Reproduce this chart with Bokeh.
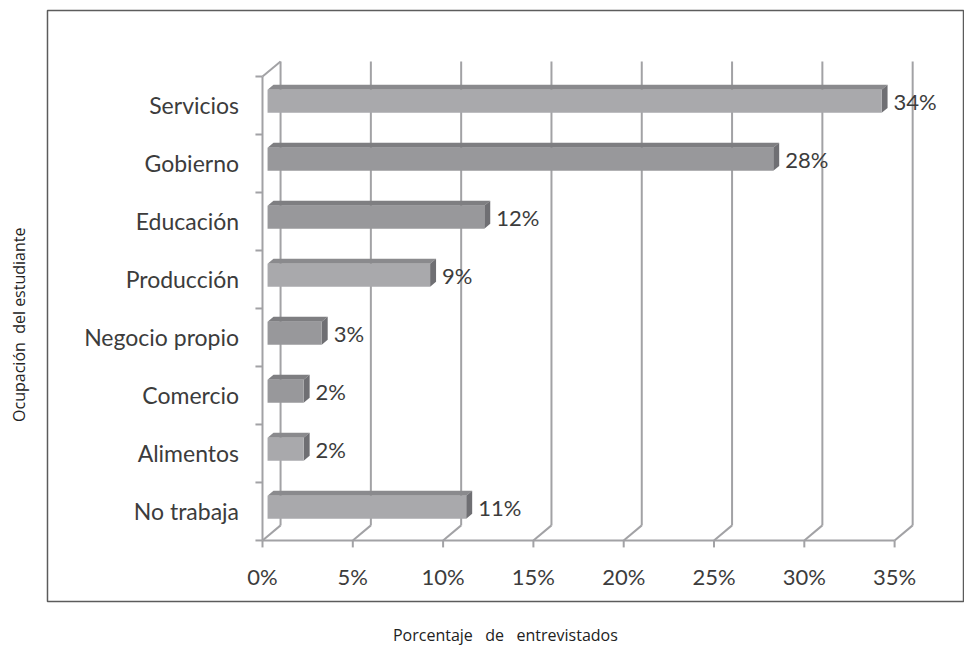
import numpy as np
from bokeh.plotting import figure
from bokeh.models import Range1d
from bokeh.embed import file_html
from bokeh.resources import INLINE
from bokeh.core.properties import value

# ---------------- data ----------------
categories = ["Servicios", "Gobierno", "Educación", "Producción",
              "Negocio propio", "Comercio", "Alimentos", "No trabaja"]
values = [34, 28, 12, 9, 3, 2, 2, 11]
bar_labels = ["34%", "28%", "12%", "9%", "3%", "2%", "2%", "11%"]
x_ticks = [0, 5, 10, 15, 20, 25, 30, 35]
x_tick_labels = ["0%", "5%", "10%", "15%", "20%", "25%", "30%", "35%"]
y_title = "Ocupación\u00a0 del estudiante"
x_title = "Porcentaje\u00a0\u00a0 de\u00a0\u00a0 entrevistados"
shade = ["light", "dark", "dark", "light", "dark", "dark", "light", "light"]

# ---------------- style ----------------
FONT = "Lato"
TXT = "#3c3c3c"
GRID = "#a2a2a5"
FRONT = {"light": "#a9a9ac", "dark": "#98989b"}
TOP = {"light": "#8a8a8d", "dark": "#7e7e81"}
SIDE = "#6f6f73"

DX, DY = 1.0, 0.26          # depth direction of the 3D box (data units)
F0, F1 = 0.28, 0.61         # bar front / back depth fractions
H = 0.2                     # half bar height (category units)

n = len(categories)
xmax = x_ticks[-1]

p = figure(width=964, height=649, output_backend="svg", toolbar_location=None,
           x_range=Range1d(-14.507, 38.87), y_range=Range1d(-1.88, 9.31),
           x_axis_type=None, y_axis_type=None, min_border=0)
p.grid.visible = False
p.outline_line_color = None
p.background_fill_color = "white"

# chart border box
p.quad(left=[-11.905], right=[38.815], bottom=[-1.052], top=[9.138],
       fill_color=None, line_color="#5c5c5c", line_width=1.5)

# ---------------- walls / grid ----------------
gx0, gy0, gx1, gy1 = [], [], [], []
for t in x_ticks:
    gx0.append(t + DX); gy0.append(DY); gx1.append(t + DX); gy1.append(n + DY)
    gx0.append(t); gy0.append(0); gx1.append(t + DX); gy1.append(DY)
gx0 += [0, 0]; gy0 += [0, n]; gx1 += [0, DX]; gy1 += [n, n + DY]
gx0.append(0); gy0.append(0); gx1.append(xmax); gy1.append(0)
for t in x_ticks:
    gx0.append(t); gy0.append(0); gx1.append(t); gy1.append(-0.12)
for k in range(n + 1):
    gx0.append(-0.39); gy0.append(k); gx1.append(0); gy1.append(k)
p.segment(gx0, gy0, gx1, gy1, line_color=GRID, line_width=2)

# ---------------- bars ----------------
fx, fy, fc, tx, ty, tc, sx, sy = [], [], [], [], [], [], [], []
ddx, ddy = (F1 - F0) * DX, (F1 - F0) * DY
lab_x, lab_y, cat_y = [], [], []
for i, (v, s) in enumerate(zip(values, shade)):
    c = n - 1 - i + 0.5
    cat_y.append(c)
    x0, x1 = F0 * DX, v + F0 * DX
    yb, yt = c - H + F0 * DY, c + H + F0 * DY
    fx.append([x0, x1, x1, x0]); fy.append([yb, yb, yt, yt]); fc.append(FRONT[s])
    tx.append([x0, x1, x1 + ddx, x0 + ddx]); ty.append([yt, yt, yt + ddy, yt + ddy]); tc.append(TOP[s])
    sx.append([x1, x1 + ddx, x1 + ddx, x1]); sy.append([yb, yb + ddy, yt + ddy, yt])
    lab_x.append(v + F1 * DX + 0.33)
    lab_y.append(c + F0 * DY)

p.patches(tx, ty, fill_color=tc, line_color=None)
p.patches(sx, sy, fill_color=SIDE, line_color=None)
p.patches(fx, fy, fill_color=fc, line_color=None)

p.text(lab_x, lab_y, text=bar_labels, text_font=value(FONT), text_font_size="22px",
       text_color=TXT, text_align="left", text_baseline="middle")
p.text([-1.3] * n, cat_y, text=categories, text_font=value(FONT), text_font_size="23px",
       text_color=TXT, text_align="right", text_baseline="middle")
p.text(x_ticks, [-0.62] * len(x_ticks), text=x_tick_labels, text_font=value(FONT),
       text_font_size="22px", text_color=TXT, text_align="center", text_baseline="middle")

# ---------------- titles ----------------
p.text([-13.51], [3.72], text=[y_title], angle=np.pi / 2, text_font=value("Open Sans"),
       text_font_size="16px", text_color="#222222", text_align="center",
       text_baseline="middle")
p.text([13.45], [-1.63], text=[x_title], text_font=value("Open Sans"),
       text_font_size="16px", text_color="#222222", text_align="center",
       text_baseline="middle")

open("out.html", "w").write(file_html(p, INLINE))
